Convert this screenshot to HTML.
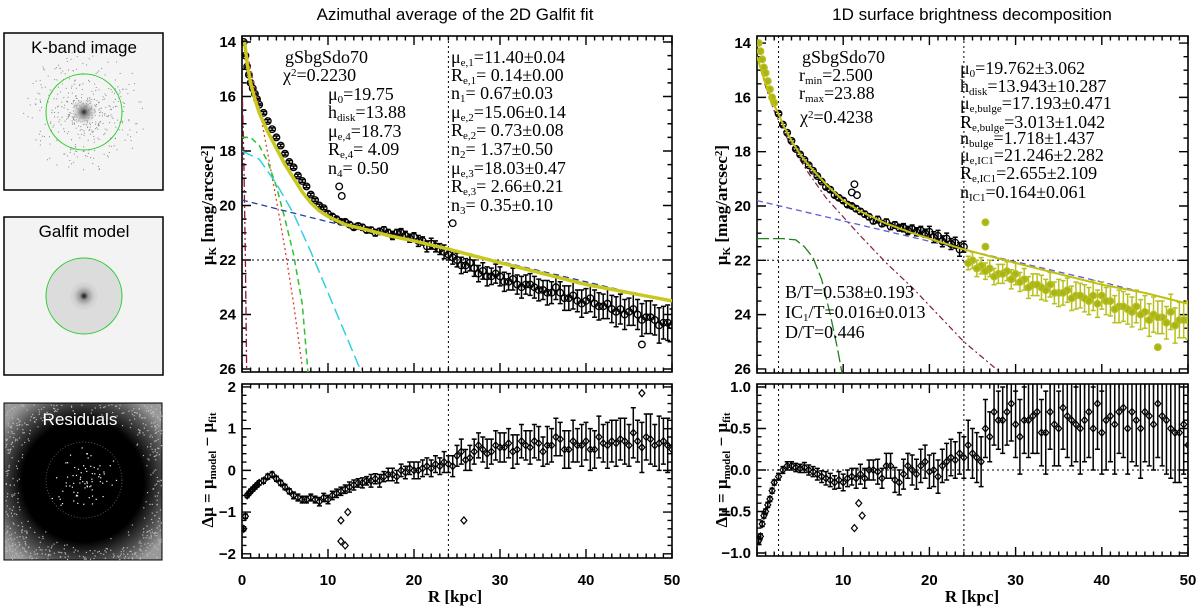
<!DOCTYPE html>
<html><head><meta charset="utf-8"><style>
html,body{margin:0;padding:0;background:#fff;width:1200px;height:608px;overflow:hidden}
svg{display:block}
.ann{font-family:"Liberation Serif",serif;font-size:18px;fill:#000}
.tick{font-family:"Liberation Sans",sans-serif;font-weight:bold;font-size:15px;fill:#000}
.ttl{font-family:"Liberation Sans",sans-serif;font-size:17px;fill:#000}
.axt{font-family:"Liberation Serif",serif;font-weight:bold;font-size:17px;fill:#000}
</style></head><body>
<svg id="fig" width="1200" height="608" viewBox="0 0 1200 608" xmlns="http://www.w3.org/2000/svg">
<defs>
<radialGradient id="gk" cx="0.5" cy="0.5" r="0.5"><stop offset="0" stop-color="#222"/><stop offset="0.25" stop-color="#888"/><stop offset="1" stop-color="#f4f4f4" stop-opacity="0"/></radialGradient>
<radialGradient id="gm" cx="0.5" cy="0.5" r="0.5"><stop offset="0" stop-color="#111"/><stop offset="0.3" stop-color="#999"/><stop offset="0.7" stop-color="#d0d0d0"/><stop offset="1" stop-color="#d8d8d8"/></radialGradient>
<radialGradient id="gr" cx="0.5" cy="0.5" r="0.62"><stop offset="0" stop-color="#000"/><stop offset="0.62" stop-color="#000"/><stop offset="0.85" stop-color="#555"/><stop offset="1" stop-color="#999"/></radialGradient>
<clipPath id="c1"><rect x="242" y="36" width="430" height="336"/></clipPath>
<clipPath id="c2"><rect x="242" y="384" width="430" height="174"/></clipPath>
<clipPath id="c3"><rect x="757" y="36" width="431" height="337"/></clipPath>
<clipPath id="c4"><rect x="757" y="384" width="431" height="172"/></clipPath>
</defs>
<g>
 <g>
  <rect x="4" y="33" width="159" height="157" fill="#f4f4f4" stroke="#000" stroke-width="1.5"/>
  <g id="kdots"></g>
  <circle cx="84" cy="112" r="14" fill="url(#gk)"/>
  <circle cx="84" cy="112" r="38" fill="none" stroke="#2ecc2e" stroke-width="1"/>
  <text x="84" y="53" text-anchor="middle" class="ttl">K-band image</text>
 </g>
 <g>
  <rect x="4" y="217" width="159" height="158" fill="#f3f3f3" stroke="#000" stroke-width="1.5"/>
  <circle cx="84" cy="296" r="38" fill="#dcdcdc"/>
  <circle cx="84" cy="296" r="14" fill="url(#gm)"/>
  <circle cx="84" cy="296" r="38" fill="none" stroke="#2ecc2e" stroke-width="1"/>
  <text x="84" y="237" text-anchor="middle" class="ttl">Galfit model</text>
 </g>
 <g>
  <rect x="4" y="403" width="158" height="157" fill="url(#gr)" stroke="#000" stroke-width="1"/>
  <g id="rdots"></g>
  <circle cx="84" cy="480" r="38" fill="none" stroke="#4a7a4a" stroke-width="0.8" stroke-dasharray="1,2"/>
  <text x="80" y="425" text-anchor="middle" class="ttl" style="fill:#fff">Residuals</text>
 </g>
</g>
<text x="455" y="20" text-anchor="middle" class="ttl">Azimuthal average of the 2D Galfit fit</text>
<text x="972" y="20" text-anchor="middle" class="ttl">1D surface brightness decomposition</text>
<g id="plots"></g>
<g>
 <text class="ann" x="285" y="63">gSbgSdo70</text>
 <text class="ann" x="283" y="81">χ<tspan font-size="11" baseline-shift="45%">2</tspan>=0.2230</text>
 <text class="ann" x="328" y="100">μ<tspan font-size="11" baseline-shift="-25%">0</tspan>=19.75</text>
 <text class="ann" x="328" y="118">h<tspan font-size="11" baseline-shift="-25%">disk</tspan>=13.88</text>
 <text class="ann" x="328" y="137">μ<tspan font-size="11" baseline-shift="-25%">e,4</tspan>=18.73</text>
 <text class="ann" x="328" y="155">R<tspan font-size="11" baseline-shift="-25%">e,4</tspan>= 4.09</text>
 <text class="ann" x="328" y="174">n<tspan font-size="11" baseline-shift="-25%">4</tspan>= 0.50</text>
 <text class="ann" x="451" y="63">μ<tspan font-size="11" baseline-shift="-25%">e,1</tspan>=11.40±0.04</text>
 <text class="ann" x="451" y="81">R<tspan font-size="11" baseline-shift="-25%">e,1</tspan>= 0.14±0.00</text>
 <text class="ann" x="451" y="99">n<tspan font-size="11" baseline-shift="-25%">1</tspan>= 0.67±0.03</text>
 <text class="ann" x="451" y="118">μ<tspan font-size="11" baseline-shift="-25%">e,2</tspan>=15.06±0.14</text>
 <text class="ann" x="451" y="136">R<tspan font-size="11" baseline-shift="-25%">e,2</tspan>= 0.73±0.08</text>
 <text class="ann" x="451" y="155">n<tspan font-size="11" baseline-shift="-25%">2</tspan>= 1.37±0.50</text>
 <text class="ann" x="451" y="174">μ<tspan font-size="11" baseline-shift="-25%">e,3</tspan>=18.03±0.47</text>
 <text class="ann" x="451" y="192">R<tspan font-size="11" baseline-shift="-25%">e,3</tspan>= 2.66±0.21</text>
 <text class="ann" x="451" y="211">n<tspan font-size="11" baseline-shift="-25%">3</tspan>= 0.35±0.10</text>
</g>
<g>
 <text class="ann" x="802" y="63">gSbgSdo70</text>
 <text class="ann" x="799" y="81">r<tspan font-size="11" baseline-shift="-25%">min</tspan>=2.500</text>
 <text class="ann" x="799" y="99">r<tspan font-size="11" baseline-shift="-25%">max</tspan>=23.88</text>
 <text class="ann" x="800" y="123">χ<tspan font-size="11" baseline-shift="45%">2</tspan>=0.4238</text>
 <text class="ann" x="960" y="74">μ<tspan font-size="11" baseline-shift="-25%">0</tspan>=19.762±3.062</text>
 <text class="ann" x="960" y="92">h<tspan font-size="11" baseline-shift="-25%">disk</tspan>=13.943±10.287</text>
 <text class="ann" x="960" y="109">μ<tspan font-size="11" baseline-shift="-25%">e,bulge</tspan>=17.193±0.471</text>
 <text class="ann" x="960" y="128">R<tspan font-size="11" baseline-shift="-25%">e,bulge</tspan>=3.013±1.042</text>
 <text class="ann" x="960" y="144">n<tspan font-size="11" baseline-shift="-25%">bulge</tspan>=1.718±1.437</text>
 <text class="ann" x="960" y="161">μ<tspan font-size="11" baseline-shift="-25%">e,IC1</tspan>=21.246±2.282</text>
 <text class="ann" x="960" y="179">R<tspan font-size="11" baseline-shift="-25%">e,IC1</tspan>=2.655±2.109</text>
 <text class="ann" x="960" y="198">n<tspan font-size="11" baseline-shift="-25%">IC1</tspan>=0.164±0.061</text>
 <text class="ann" x="785" y="298">B/T=0.538±0.193</text>
 <text class="ann" x="785" y="318">IC<tspan font-size="11" baseline-shift="-25%">1</tspan>/T=0.016±0.013</text>
 <text class="ann" x="785" y="338">D/T=0.446</text>
</g>
<g>
 <text class="axt" transform="translate(213,205) rotate(-90)" text-anchor="middle">μ<tspan font-size="11" baseline-shift="-25%">K</tspan>   [mag/arcsec<tspan font-size="11" baseline-shift="45%">2</tspan>]</text>
 <text class="axt" transform="translate(213,470) rotate(-90)" text-anchor="middle">Δμ = μ<tspan font-size="11" baseline-shift="-25%">model</tspan> − μ<tspan font-size="11" baseline-shift="-25%">fit</tspan></text>
 <text class="axt" transform="translate(727,205) rotate(-90)" text-anchor="middle">μ<tspan font-size="11" baseline-shift="-25%">K</tspan>   [mag/arcsec<tspan font-size="11" baseline-shift="45%">2</tspan>]</text>
 <text class="axt" transform="translate(727,470) rotate(-90)" text-anchor="middle">Δμ = μ<tspan font-size="11" baseline-shift="-25%">model</tspan> − μ<tspan font-size="11" baseline-shift="-25%">fit</tspan></text>
 <text class="axt" x="455" y="602" text-anchor="middle">R    [kpc]</text>
 <text class="axt" x="972" y="602" text-anchor="middle">R    [kpc]</text>
</g>
</svg>
<script>
const radii=[0.2,0.4,0.6,0.8,1,1.25,1.5,1.75,2,2.5,3,3.5,4,4.5,5,5.5,6,6.5,7,7.5,8,8.5,9,9.5,10,10.5,11,11.5,12,12.5,13,14,15,16,17,18,19,20,21,22,23,24,25,26,27,28,29,30,31,32,33,34,35,36,37,38,39,40,41,42,43,44,45,46,47,48,49,50];
const muLeft=[14.0,14.5,14.9,15.2,15.5,15.7,15.9,16.1,16.3,16.6,16.9,17.2,17.5,17.8,18.1,18.4,18.6,18.9,19.1,19.3,19.6,19.8,20.0,20.1,20.3,20.4,20.5,20.6,20.6,20.7,20.8,20.8,20.9,20.95,21.0,21.0,21.1,21.15,21.3,21.4,21.6,21.8,22.0,22.2,22.3,22.4,22.6,22.6,22.8,22.9,22.9,23.0,23.1,23.2,23.2,23.4,23.5,23.5,23.6,23.7,23.8,23.8,23.9,24.0,24.1,24.2,24.3,24.4];
const errLeft=[0.03,0.03,0.03,0.03,0.03,0.03,0.03,0.03,0.03,0.05,0.05,0.05,0.05,0.05,0.05,0.05,0.05,0.05,0.05,0.05,0.05,0.05,0.05,0.05,0.08,0.08,0.08,0.08,0.08,0.08,0.08,0.1,0.1,0.1,0.12,0.12,0.15,0.15,0.15,0.2,0.2,0.2,0.25,0.25,0.3,0.3,0.3,0.35,0.3,0.35,0.35,0.4,0.35,0.4,0.4,0.45,0.4,0.45,0.5,0.45,0.5,0.55,0.5,0.55,0.6,0.55,0.6,0.6];
const radiiMid=[13.5,14.5,15.5,16.5,17.5,18.5,19.5,20.5,21.5,22.5,23.5,24.5,25.5,26.5,27.5,28.5,29.5,30.5,31.5,32.5,33.5,34.5,35.5,36.5,37.5,38.5,39.5,40.5,41.5,42.5,43.5,44.5,45.5,46.5,47.5,48.5,49.5];
const muLeftMid=[20.75,20.9,21.0,20.9,21.1,21.0,21.2,21.3,21.5,21.5,21.7,21.9,22.2,22.1,22.5,22.6,22.5,22.8,22.7,23.0,22.9,23.1,23.2,23.0,23.4,23.3,23.6,23.4,23.7,23.6,23.9,24.0,23.8,24.2,24.1,24.4,24.3];
const errMid=[0.1,0.1,0.12,0.12,0.15,0.15,0.15,0.2,0.2,0.2,0.25,0.25,0.3,0.3,0.3,0.35,0.35,0.35,0.4,0.4,0.4,0.4,0.45,0.45,0.45,0.5,0.5,0.5,0.5,0.55,0.55,0.55,0.6,0.6,0.6,0.65,0.65];
const outlierLeftR=[11.3,11.6,24.5,46.5];
const outlierLeftMu=[19.3,19.65,20.65,25.1];
const muRight=[14.0,14.3,14.6,14.9,15.1,15.4,15.7,16.0,16.2,16.6,17.0,17.3,17.6,17.9,18.1,18.3,18.5,18.7,18.9,19.1,19.3,19.4,19.6,19.7,19.8,19.95,20.0,20.1,20.2,20.3,20.4,20.5,20.6,20.7,20.8,20.85,20.9,20.95,21.1,21.2,21.35,21.5,22.0,22.2,22.3,22.5,22.4,22.5,22.7,22.9,23.0,22.9,23.2,23.1,23.3,23.4,23.3,23.3,23.5,23.7,23.8,23.7,23.9,24.0,24.1,23.9,24.2,24.2];
const errRight=[0.05,0.05,0.05,0.05,0.05,0.05,0.05,0.05,0.05,0.05,0.05,0.05,0.05,0.05,0.05,0.05,0.05,0.05,0.05,0.05,0.08,0.08,0.08,0.08,0.08,0.08,0.08,0.1,0.1,0.1,0.1,0.12,0.12,0.12,0.15,0.15,0.15,0.2,0.2,0.2,0.2,0.2,0.3,0.3,0.3,0.35,0.35,0.4,0.4,0.4,0.45,0.45,0.5,0.45,0.5,0.5,0.55,0.5,0.55,0.6,0.55,0.6,0.6,0.65,0.6,0.65,0.65,0.7];
const muRightMid=[20.55,20.65,20.75,20.8,20.9,20.95,21.0,21.15,21.3,21.4,21.6,22.1,22.3,22.4,22.6,22.5,22.7,22.8,23.0,22.9,23.1,23.2,23.2,23.4,23.3,23.5,23.6,23.5,23.8,23.7,23.9,24.0,24.2,24.1,24.3,24.4,24.2];
const outlierRightR=[11.0,11.3,11.6,26.5,26.5,46.5];
const outlierRightMu=[19.5,19.2,19.6,20.6,21.5,25.2];
const resLeft=[-1.4,-1.1,-0.6,-0.55,-0.5,-0.45,-0.4,-0.35,-0.3,-0.25,-0.15,-0.1,-0.2,-0.3,-0.4,-0.5,-0.6,-0.65,-0.7,-0.7,-0.65,-0.7,-0.75,-0.65,-0.7,-0.6,-0.55,-0.5,-0.45,-0.4,-0.35,-0.3,-0.25,-0.25,-0.1,-0.15,-0.05,0,0.05,0.05,0.1,0.15,0.35,0.25,0.45,0.5,0.45,0.55,0.65,0.5,0.6,0.7,0.45,0.6,0.75,0.5,0.6,0.7,0.5,0.65,0.7,0.75,0.6,0.7,0.8,0.6,0.7,0.5];
const resLeftErr=[0.05,0.05,0.05,0.05,0.05,0.05,0.05,0.05,0.05,0.06,0.06,0.06,0.06,0.06,0.06,0.06,0.08,0.08,0.08,0.08,0.08,0.08,0.1,0.1,0.1,0.1,0.1,0.1,0.1,0.12,0.12,0.12,0.15,0.15,0.15,0.15,0.15,0.2,0.2,0.2,0.2,0.2,0.25,0.25,0.3,0.3,0.3,0.35,0.35,0.35,0.35,0.4,0.35,0.4,0.4,0.45,0.4,0.45,0.45,0.45,0.5,0.5,0.5,0.5,0.55,0.5,0.55,0.5];
const resLeftMid=[-0.3,-0.25,-0.2,-0.15,-0.1,0,0.05,0,0.1,0.15,0.2,0.1,0.45,0.3,0.6,0.4,0.6,0.55,0.45,0.7,0.55,0.65,0.6,0.8,0.5,0.7,0.6,0.5,0.8,0.6,0.65,0.7,0.9,0.55,0.75,0.65,0.6];
const outlierResLR=[11.5,11.5,12.0,12.3,25.8,46.5];
const outlierResLV=[-1.2,-1.7,-1.8,-1.0,-1.2,1.85];
const resRight=[-0.85,-0.8,-0.65,-0.55,-0.5,-0.42,-0.35,-0.25,-0.15,-0.08,0,0.05,0.05,0.03,0.02,0.03,0,-0.02,-0.05,-0.08,-0.1,-0.12,-0.15,-0.12,-0.15,-0.1,-0.08,-0.1,-0.05,-0.1,0,-0.02,0.05,-0.12,-0.05,0,0.05,-0.02,-0.08,0.1,0.12,0.15,0.2,0.1,0.4,0.6,0.7,0.55,0.6,0.65,0.45,0.7,0.5,0.65,0.55,0.6,0.5,0.45,0.65,0.7,0.5,0.6,0.7,0.55,0.65,0.5,0.45,0.3];
const resRightErr=[0.03,0.03,0.03,0.03,0.03,0.03,0.03,0.03,0.03,0.04,0.04,0.05,0.05,0.05,0.05,0.06,0.06,0.06,0.07,0.07,0.08,0.08,0.08,0.1,0.1,0.1,0.1,0.12,0.12,0.12,0.12,0.15,0.15,0.15,0.18,0.18,0.2,0.2,0.2,0.22,0.22,0.25,0.3,0.3,0.3,0.35,0.4,0.4,0.4,0.45,0.4,0.45,0.45,0.5,0.45,0.5,0.5,0.5,0.55,0.5,0.55,0.55,0.6,0.55,0.6,0.6,0.6,0.6];
const resRightMid=[0,-0.1,0.05,-0.15,0.05,-0.05,0.1,0.0,0.05,0.15,0.2,0.3,0.15,0.5,0.7,0.6,0.8,0.4,0.6,0.7,0.45,0.55,0.75,0.6,0.5,0.7,0.8,0.6,0.55,0.75,0.7,0.5,0.65,0.8,0.6,0.45,0.55];
const resRightErrMid=[0.12,0.12,0.15,0.15,0.15,0.18,0.2,0.2,0.2,0.22,0.25,0.3,0.3,0.35,0.4,0.4,0.45,0.45,0.45,0.5,0.5,0.5,0.5,0.55,0.55,0.55,0.55,0.6,0.6,0.6,0.6,0.6,0.6,0.65,0.65,0.6,0.6];
const outlierResRR=[11.3,11.8,12.2];
const outlierResRV=[-0.7,-0.4,-0.55];
// model curves (left)
const totalLR=[0.3,0.6,1,1.5,2,3,4,5,6,7,8,9,10,12,14,17,20,24,30,35,40,45,50];
const totalLMu=[14,14.8,15.5,16.1,16.6,17.3,17.9,18.5,19.0,19.5,19.9,20.2,20.4,20.7,20.85,21.1,21.3,21.6,22.1,22.5,22.9,23.2,23.5];
const diskLR=[0,10,20,30,40,50];
const diskLMu=[19.8,20.6,21.3,22.05,22.8,23.55];
const cyanR=[0,2,4,6,8,10,12,14];
const cyanMu=[18.0,18.3,19.2,20.3,21.7,23.2,24.7,26.2];
const greenLR=[0,1,2,3,4,5,6,7,7.7];
const greenLMu=[17.5,17.5,17.8,18.4,19.3,20.5,21.8,23.6,26.2];
const redR=[0.3,1,2,3,4,5,6,7];
const redMu=[14,15,16.4,18.1,19.8,21.6,23.6,25.9];
const darkR=[0,0.2,0.4,0.55];
const darkMu=[15.5,18,22,26.2];
// model curves (right)
const totalRR=[0,0.5,1,1.5,2,2.5,3,4,5,6,8,10,12,15,18,21,24,30,35,40,45,50];
const totalRMu=[14.5,15.0,15.5,15.9,16.3,16.6,17.0,17.6,18.1,18.5,19.2,19.8,20.2,20.65,21.0,21.3,21.6,22.1,22.5,22.9,23.2,23.6];
const diskRR=[0,10,20,30,40,50];
const diskRMu=[19.8,20.55,21.3,22.05,22.8,23.6];
const bulgeR=[0,1,2,3,4,6,8,10,12,15,18,21,24,27,28.5];
const bulgeMu=[14.5,15.6,16.5,17.2,17.8,18.8,19.7,20.4,21.1,22.1,23.0,24.0,25.0,25.8,26.2];
const icR=[0,3,4.5,5.5,6.5,7.5,8.5,9.3,9.9];
const icMu=[21.2,21.2,21.25,21.5,21.9,22.7,24.0,25.2,26.2];
// axis ticks
const xTickLabels=[0,10,20,30,40,50];
const xTickLabelsRight=[10,20,30,40,50];
const muTickLabels=[14,16,18,20,22,24,26];
const resLTickLabels=[-2,-1,0,1,2];
const resRTickLabels=[-1.0,-0.5,0.0,0.5,1.0];

const NS='http://www.w3.org/2000/svg';
function mk(tag,attrs,parent){const e=document.createElementNS(NS,tag);for(const k in attrs)e.setAttribute(k,attrs[k]);parent.appendChild(e);return e;}
const root=document.getElementById('plots');
const P1={x0:242,x1:672,y0:36,y1:372,xmin:0,xmax:50,yt:13.78,yb:26.11,clip:'c1'};
const P2={x0:242,x1:672,y0:384,y1:558,xmin:0,xmax:50,yt:2.07,yb:-2.1,clip:'c2'};
const P3={x0:757,x1:1188,y0:36,y1:373,xmin:0,xmax:50,yt:13.74,yb:26.15,clip:'c3'};
const P4={x0:757,x1:1188,y0:384,y1:556,xmin:0,xmax:50,yt:1.036,yb:-1.036,clip:'c4'};
function sx(p,v){return p.x0+(v-p.xmin)/(p.xmax-p.xmin)*(p.x1-p.x0);}
function sy(p,v){return p.y0+(v-p.yt)/(p.yb-p.yt)*(p.y1-p.y0);}

function drawAxes(p,name,yMinorStep,yLabels,xLabels,fmt){
  const g=mk('g',{},root);
  
  
  const box=mk('rect',{x:p.x0,y:p.y0,width:p.x1-p.x0,height:p.y1-p.y0,fill:'none',stroke:'#000','stroke-width':1.6},g);
  
  
  let d='';
  for(let v=0;v<=50.001;v+=1){
    const x=sx(p,v);const L=(Math.abs(v%10)<1e-6)?9:4.5;
    d+=`M${x},${p.y1}v${-L}M${x},${p.y0}v${L}`;
  }
  const lo=Math.min(p.yt,p.yb),hi=Math.max(p.yt,p.yb);
  const n0=Math.ceil(lo/yMinorStep-1e-6),n1=Math.floor(hi/yMinorStep+1e-6);
  for(let k=n0;k<=n1;k++){
    const v=k*yMinorStep;const y=sy(p,v);
    const isMaj=yLabels.some(t=>Math.abs(t-v)<1e-6);const L=isMaj?9:4.5;
    d+=`M${p.x0},${y}h${L}M${p.x1},${y}h${-L}`;
  }
  const t=mk('path',{d:d,stroke:'#000','stroke-width':1.4,fill:'none'},g);
  
  
  yLabels.forEach(v=>{
    const tx=mk('text',{x:p.x0-6,y:sy(p,v)+5,'text-anchor':'end',class:'tick'},g);
    
    
    tx.textContent=fmt(v);
  });
  xLabels.forEach(v=>{
    const tx=mk('text',{x:sx(p,v),y:585,'text-anchor':'middle',class:'tick'},g);
    
    
    tx.textContent=String(v);
  });
}
function line(p,xs,ys,style,name){
  const pts=xs.map((x,i)=>sx(p,x).toFixed(1)+','+sy(p,ys[i]).toFixed(1)).join(' ');
  const el=mk('polyline',Object.assign({points:pts,fill:'none','clip-path':`url(#${p.clip})`},style),root);
  
  
}
function refLines(p,xVals,yVals,name){
  const g=mk('g',{'clip-path':`url(#${p.clip})`},root);
  
  
  xVals.forEach(v=>{mk('line',{x1:sx(p,v),x2:sx(p,v),y1:p.y0,y2:p.y1,stroke:'#000','stroke-width':1,'stroke-dasharray':'2,3'},g);});
  yVals.forEach(v=>{mk('line',{x1:p.x0,x2:p.x1,y1:sy(p,v),y2:sy(p,v),stroke:'#000','stroke-width':1,'stroke-dasharray':'2,3'},g);});
}
function points(p,xs,ys,es,shape,colorFn,name){
  const g=mk('g',{'clip-path':`url(#${p.clip})`},root);
  
  
  xs.forEach((r,i)=>{
    const x=sx(p,r),y=sy(p,ys[i]);const c=colorFn(r);
    if(es){const e=es[i];const ya=sy(p,ys[i]-e),yb=sy(p,ys[i]+e);
      const eb=mk('path',{d:`M${x},${ya}V${yb}M${x-2.5},${ya}h5M${x-2.5},${yb}h5`,stroke:c.s,'stroke-width':1.5,fill:'none'},g);
      
      
    }
    let m;
    if(shape==='circle') m=mk('circle',{cx:x,cy:y,r:3.3,fill:c.f,stroke:c.s,'stroke-width':1.3},g);
    else m=mk('path',{d:`M${x},${y-3.5}L${x+3},${y}L${x},${y+3.5}L${x-3},${y}Z`,fill:'none',stroke:c.s,'stroke-width':1.2},g);
    
    
  });
}
const blk=()=>({s:'#000',f:'none'});
const f0=v=>String(v).replace('-','−');
const f1=v=>v.toFixed(1).replace('-','−');

// Panel 1
drawAxes(P1,'left-profile',0.5,muTickLabels,[],f0);
refLines(P1,[24],[22],'left-profile-reference-lines');
points(P1,radii,muLeft,errLeft,'circle',blk,'left-profile-data');
points(P1,radiiMid,muLeftMid,errMid,'circle',blk,'left-profile-data-mid');
points(P1,outlierLeftR,outlierLeftMu,null,'circle',blk,'left-profile-outliers');
line(P1,darkR,darkMu,{stroke:'#901030','stroke-width':1.3,'stroke-dasharray':'8,3,2,3'},'left-component-1');
line(P1,redR,redMu,{stroke:'#e04020','stroke-width':1.3,'stroke-dasharray':'2,3'},'left-component-2');
line(P1,greenLR,greenLMu,{stroke:'#30c030','stroke-width':1.5,'stroke-dasharray':'6,4'},'left-component-3');
line(P1,cyanR,cyanMu,{stroke:'#30d0e0','stroke-width':1.5,'stroke-dasharray':'12,5'},'left-component-4');
line(P1,diskLR,diskLMu,{stroke:'#2040a0','stroke-width':1.3,'stroke-dasharray':'6,4'},'left-disk-model');
line(P1,totalLR,totalLMu,{stroke:'#c8c820','stroke-width':3.5},'left-total-model');
// Panel 2
drawAxes(P2,'left-residual',0.2,resLTickLabels,xTickLabels,f0);
refLines(P2,[24],[],'left-residual-reference-lines');
points(P2,radii,resLeft,resLeftErr,'diamond',blk,'left-residual-data');
points(P2,radiiMid,resLeftMid,errMid,'diamond',blk,'left-residual-data-mid');
points(P2,outlierResLR,outlierResLV,null,'diamond',blk,'left-residual-outliers');
// Panel 3
const yc=r=>(r<2.5||r>24)?{s:'#b8c020',f:'#a8b418'}:{s:'#000',f:'none'};
drawAxes(P3,'right-profile',0.5,muTickLabels,[],f0);
refLines(P3,[2.5,24],[22],'right-profile-reference-lines');
line(P3,icR,icMu,{stroke:'#208020','stroke-width':1.3,'stroke-dasharray':'12,4'},'right-ic-model');
line(P3,bulgeR,bulgeMu,{stroke:'#802040','stroke-width':1.2,'stroke-dasharray':'6,3,2,3'},'right-bulge-model');
line(P3,diskRR,diskRMu,{stroke:'#6060d0','stroke-width':1.3,'stroke-dasharray':'6,4'},'right-disk-model');
points(P3,radii,muRight,errRight,'circle',yc,'right-profile-data');
points(P3,radiiMid,muRightMid,errMid,'circle',yc,'right-profile-data-mid');
points(P3,outlierRightR,outlierRightMu,null,'circle',yc,'right-profile-outliers');
line(P3,totalRR,totalRMu,{stroke:'#c0c010','stroke-width':2},'right-total-model');
// Panel 4
drawAxes(P4,'right-residual',0.1,resRTickLabels,xTickLabelsRight,f1);
refLines(P4,[2.5,24],[0],'right-residual-reference-lines');
points(P4,radii,resRight,resRightErr,'diamond',blk,'right-residual-data');
points(P4,radiiMid,resRightMid,resRightErrMid,'diamond',blk,'right-residual-data-mid');
points(P4,outlierResRR,outlierResRV,null,'diamond',blk,'right-residual-outliers');

// thumbnail speckle texture (decorative)
let seed=12345;function rnd(){seed=(seed*1103515245+12345)%2147483648;return seed/2147483648;}
const kd=document.getElementById('kdots');
for(let i=0;i<650;i++){
  const a=rnd()*6.283,rr=Math.pow(rnd(),1.9)*62;const x=84+rr*Math.cos(a),y=112+rr*Math.sin(a);
  if(x<6||x>161||y<35||y>188)continue;
  const d=mk('rect',{x:x,y:y,width:1,height:1,fill:'#888'},kd);
  
  
}
const rd=document.getElementById('rdots');
for(let i=0;i<1800;i++){
  const x=5+rnd()*156,y=404+rnd()*155;const dist=Math.hypot(x-84,y-480);
  let col=null;
  if(dist>62&&rnd()<(dist-62)/25)col='#bbb';
  else if(dist<40&&rnd()<Math.pow(1-dist/40,1.5)*0.9)col='#fff';
  if(!col)continue;
  const d=mk('rect',{x:x,y:y,width:1.2,height:1.2,fill:col},rd);
  
  
}
</script>
</body></html>
